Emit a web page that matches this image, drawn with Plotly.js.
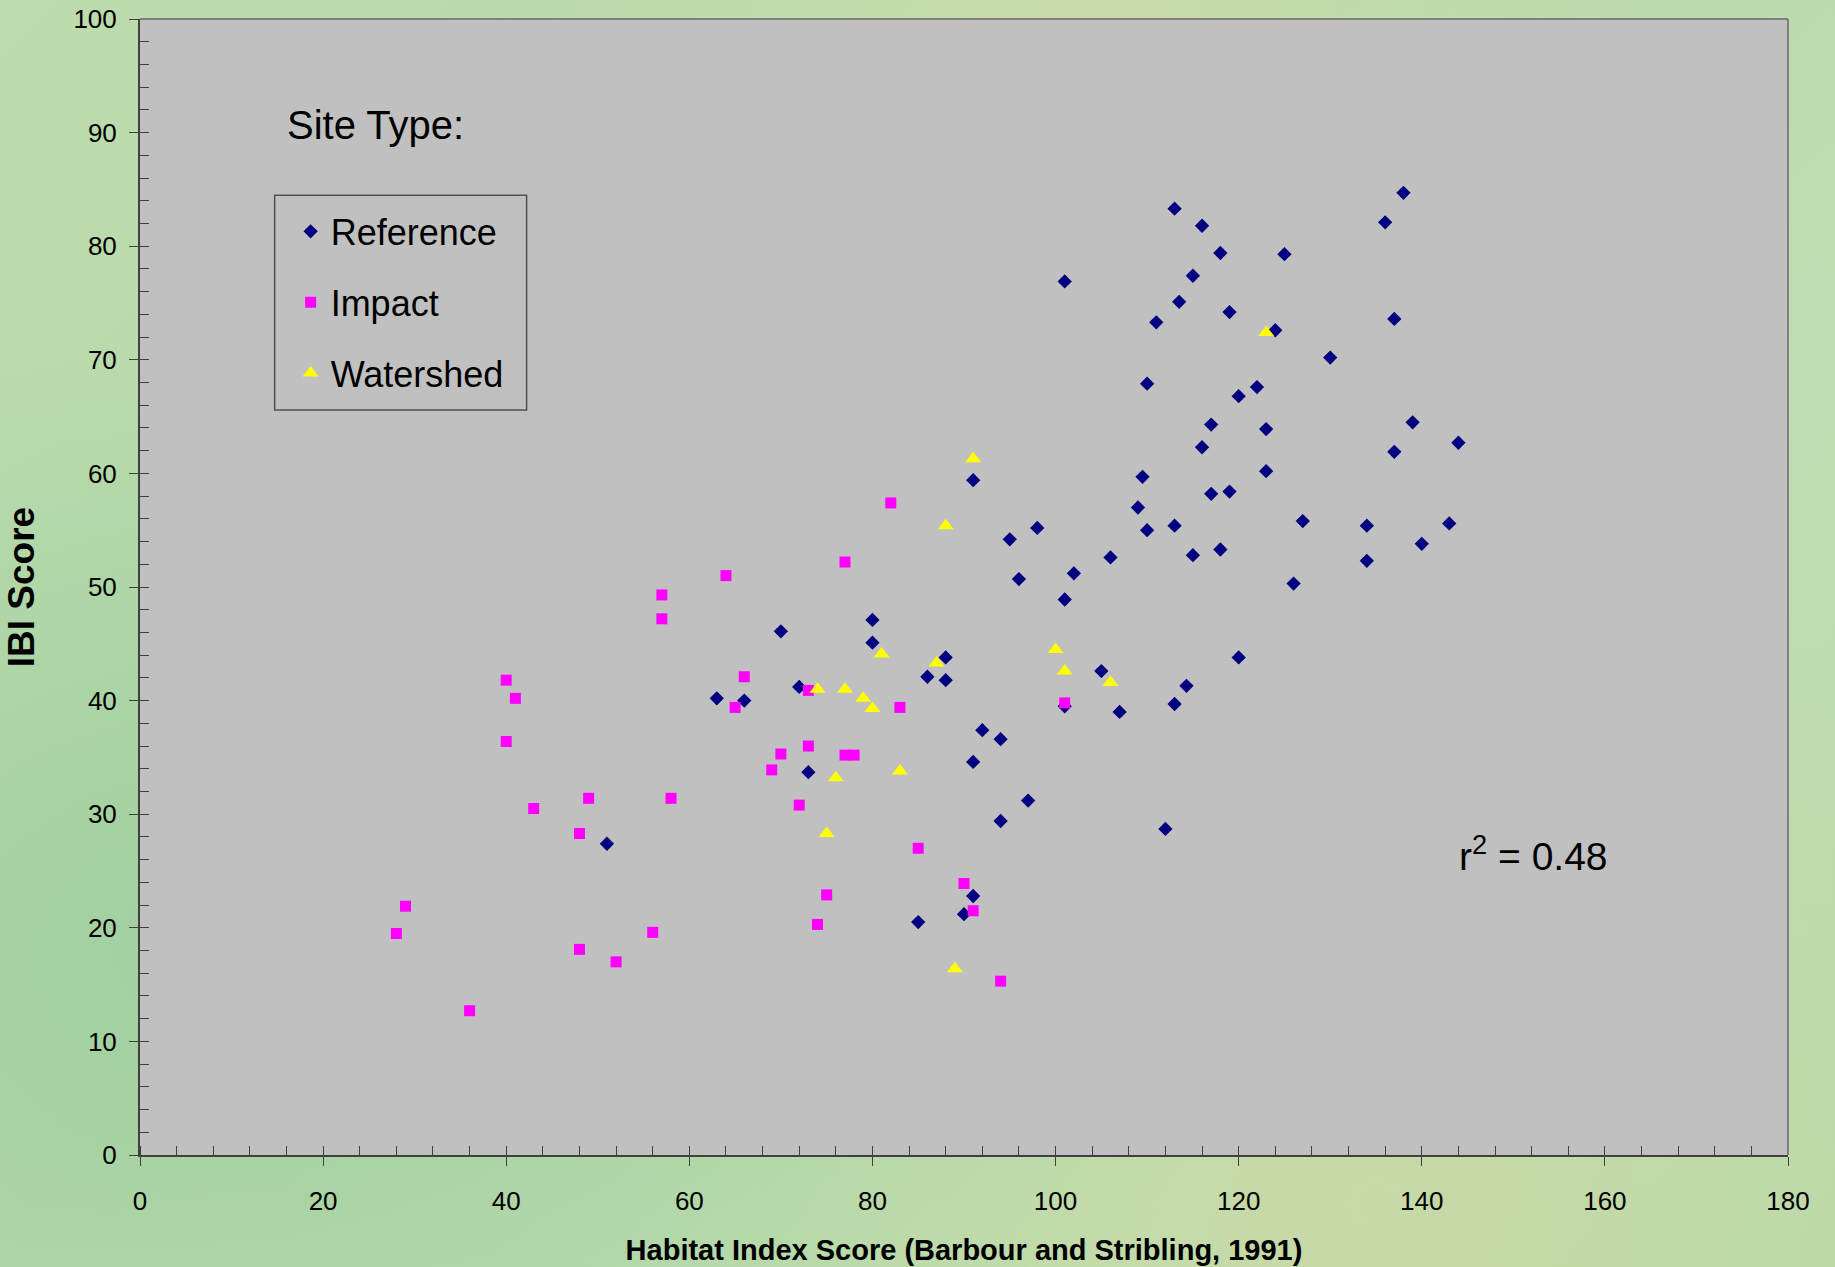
<!DOCTYPE html>
<html>
<head>
<meta charset="utf-8">
<script src="https://cdn.plot.ly/plotly-3.0.1.min.js"></script>
<style>
html,body{margin:0;padding:0;}
body{width:1835px;height:1267px;overflow:hidden;
background:
 radial-gradient(ellipse at 15% 75%, rgba(140,200,150,0.55), rgba(140,200,150,0) 45%),
 radial-gradient(ellipse at 75% 95%, rgba(205,215,160,0.6), rgba(205,215,160,0) 40%),
 radial-gradient(ellipse at 60% 5%, rgba(215,220,170,0.55), rgba(215,220,170,0) 40%),
 linear-gradient(135deg, #bcdcae 0%, #b6d8a9 40%, #bfdeb1 70%, #b9daab 100%);}
#chart{width:1835px;height:1267px;}
</style>
</head>
<body>
<div id="chart"></div>
<script>
// Reference sites
const refX = [113,116,138,136,118,125,115,101,113.5,119,111,137,124,130,110,122,120,117,123,139,144,116,137,123,109.5,91,119,117,109,113,98,134,127,143,110,95,140,118,115,106,134,102,96,126,101,70,80,80,88,120,105,86,88,72,114.3,63,66,101,113,107,92,94,91,73,97,94,112,51,91,90,85];
const refY = [83.3,81.8,84.7,82.1,79.4,79.3,77.4,76.9,75.1,74.2,73.3,73.6,72.6,70.2,67.9,67.6,66.8,64.3,63.9,64.5,62.7,62.3,61.9,60.2,59.7,59.4,58.4,58.2,57.0,55.4,55.2,55.4,55.8,55.6,55.0,54.2,53.8,53.3,52.8,52.6,52.3,51.2,50.7,50.3,48.9,46.1,47.1,45.1,43.8,43.8,42.6,42.1,41.8,41.2,41.3,40.2,40.0,39.5,39.7,39.0,37.4,36.6,34.6,33.7,31.2,29.4,28.7,27.4,22.8,21.2,20.5];
// Impact sites
const impX = [28,29,36,40,41,40,43,49,48,48,52,56,58,57,57,64,66,65,70,69,73,73,72,77,82,77,78,83,85,75,74,90,91,94,101];
const impY = [19.5,21.9,12.7,41.8,40.2,36.4,30.5,31.4,28.3,18.1,17.0,19.6,31.4,49.3,47.2,51.0,42.1,39.4,35.3,33.9,40.9,36.0,30.8,52.2,57.4,35.2,35.2,39.4,27.0,22.9,20.3,23.9,21.5,15.3,39.8];
// Watershed sites
const watX = [123,91,88,100,81,101,106,87,74,77,79,80,83,76,75,89];
const watY = [72.4,61.3,55.4,44.5,44.1,42.6,41.6,43.3,41.0,41.0,40.2,39.3,33.8,33.2,28.3,16.4];

const seriesNames = ['Reference','Impact','Watershed'];
const xTitle = 'Habitat Index Score (Barbour and Stribling, 1991)';
const yTitle = 'IBI Score';
const legendHeading = 'Site Type:';
const rSquared = 'r<sup>2</sup> = 0.48';

const FONT = 'Arial, "Liberation Sans", sans-serif';

const traces = [
 {type:'scatter',mode:'markers',name:seriesNames[0],x:refX,y:refY,legendgroup:'a',
  marker:{symbol:'diamond',size:11,color:'#000080',line:{width:0}}},
 {type:'scatter',mode:'markers',name:seriesNames[1],x:impX,y:impY,legendgroup:'b',
  marker:{symbol:'square',size:11,color:'#FF00FF',line:{width:0}}},
 {type:'scatter',mode:'markers',name:seriesNames[2],x:watX,y:watY,legendgroup:'c',
  marker:{symbol:'triangle-up',size:14,color:'#FFFF00',line:{width:0}}},
 {type:'scatter',mode:'markers',x:[],y:[],xaxis:'x2',yaxis:'y2',showlegend:false,hoverinfo:'skip'}
];

const axCol = '#404040';
const layout = {
 width:1835,height:1267,
 margin:{l:140,r:47,t:19,b:112,pad:0},
 paper_bgcolor:'rgba(0,0,0,0)',
 plot_bgcolor:'#C0C0C0',
 font:{family:FONT,color:'#000'},
 showlegend:true,
 legend:{x:0.0914,y:0.8394,xanchor:'left',yanchor:'top',bgcolor:'rgba(0,0,0,0)',borderwidth:0,
   font:{size:36,family:FONT},tracegroupgap:21,traceorder:'grouped'},
 xaxis:{range:[0,180],dtick:20,tick0:0,showgrid:false,zeroline:false,
   showline:true,linecolor:axCol,linewidth:2,mirror:false,
   ticks:'outside',ticklen:9,tickwidth:1,tickcolor:axCol,
   minor:{ticks:'inside',dtick:4,ticklen:9,tickwidth:1,tickcolor:axCol},
   tickfont:{size:26,family:FONT},ticklabelstandoff:13,
   title:{text:xTitle,font:{size:29,family:FONT,weight:'bold'},standoff:24},
   fixedrange:true},
 yaxis:{range:[0,100],dtick:10,tick0:0,showgrid:false,zeroline:false,
   showline:true,linecolor:axCol,linewidth:2,
   ticks:'outside',ticklen:9,tickwidth:1,tickcolor:axCol,
   minor:{ticks:'inside',dtick:2,ticklen:9,tickwidth:1,tickcolor:axCol},
   tickfont:{size:26,family:FONT},ticklabelstandoff:7,
   title:{text:yTitle,font:{size:37,family:FONT,weight:'bold'},standoff:27},
   fixedrange:true},
 xaxis2:{overlaying:'x',anchor:'y2',range:[0,180],dtick:20,tick0:0,showgrid:false,zeroline:false,
   showline:false,ticks:'inside',ticklen:9,tickwidth:1,tickcolor:axCol,showticklabels:false},
 yaxis2:{overlaying:'y',anchor:'x2',range:[0,100],dtick:10,tick0:0,showgrid:false,zeroline:false,
   showline:false,ticks:'inside',ticklen:9,tickwidth:1,tickcolor:axCol,showticklabels:false},
 shapes:[
  {type:'line',xref:'paper',yref:'paper',x0:0,x1:1,y0:1,y1:1,line:{color:'#808080',width:2}},
  {type:'line',xref:'paper',yref:'paper',x0:1,x1:1,y0:0,y1:1,line:{color:'#808080',width:2}},
  {type:'rect',xref:'paper',yref:'paper',x0:0.0817,x1:0.2346,y0:0.6557,y1:0.8449,
   line:{color:'#505050',width:1.5},fillcolor:'rgba(0,0,0,0)'}
 ],
 annotations:[
  {xref:'paper',yref:'paper',x:0.0881,y:0.9065,xanchor:'left',yanchor:'middle',showarrow:false,
   text:legendHeading,font:{size:40,family:FONT}},
  {xref:'paper',yref:'paper',x:0.7994,y:0.265,xanchor:'left',yanchor:'middle',showarrow:false,
   text:rSquared,font:{size:39,family:FONT}}
 ]
};

Plotly.newPlot('chart',traces,layout,{displayModeBar:false,staticPlot:true});
</script>
</body>
</html>
